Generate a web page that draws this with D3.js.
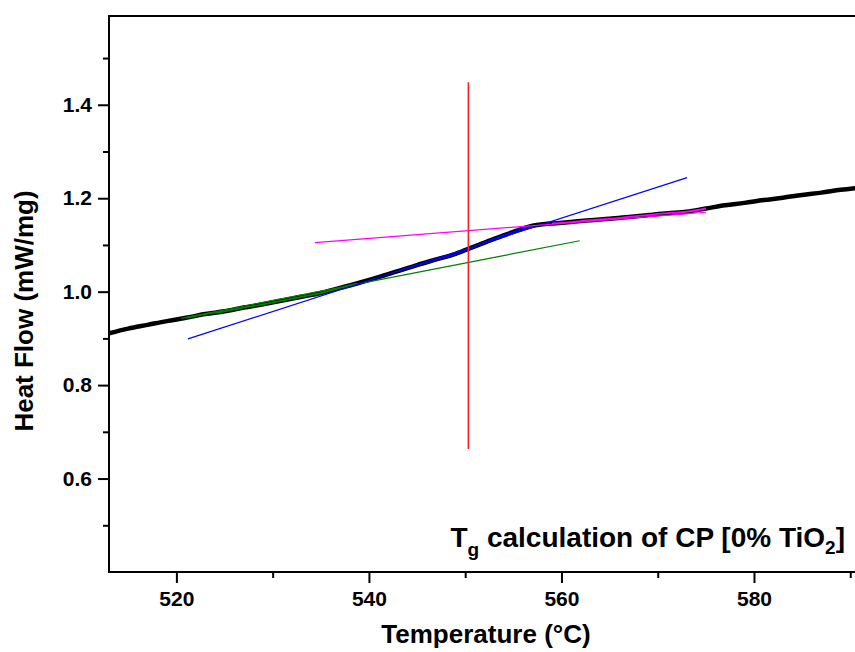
<!DOCTYPE html>
<html>
<head>
    <script src="https://d3js.org/d3.v7.min.js"></script>
    <style>
        body { margin: 0; background: #fff; }
        svg text { font-family: "Liberation Sans", Arial, sans-serif; font-weight: bold; fill: #000; }
    </style>
</head>
<body>
    <div id="chart"></div>
    <script>
        // Heat flow curve (temperature in C, mW/mg)
        const temps = [513, 515, 517, 519, 521, 523, 525, 527, 529, 531, 533, 535, 537, 539,
            541, 543, 545, 547, 549, 551, 553, 555, 557, 559, 561, 563, 565, 567, 569, 571,
            573, 575, 577, 579, 581, 583, 585, 587, 589, 590.7];
        const heatFlow = [0.911, 0.921, 0.929, 0.937, 0.944, 0.952, 0.958, 0.966, 0.973, 0.981,
            0.989, 0.997, 1.008, 1.019, 1.031, 1.044, 1.057, 1.069, 1.081, 1.097, 1.113, 1.128,
            1.141, 1.146, 1.149, 1.153, 1.156, 1.160, 1.164, 1.168, 1.171, 1.178, 1.185, 1.190,
            1.196, 1.201, 1.207, 1.212, 1.218, 1.222];

        // tangent lines: [x1, y1, x2, y2] and the curve range each one was fitted on
        const greenLine = [520.5, 0.943, 561.9, 1.109];
        const blueLine = [521.2, 0.899, 573.05, 1.244];
        const magentaLine = [534.4, 1.105, 575.0, 1.170];
        const tgLine = [550.33, 0.663, 550.33, 1.448];
        const greenFit = [520.5, 540];
        const blueFit = [543, 557];
        const magentaFit = [558, 575];

        const xTicks = [520, 540, 560, 580];
        const xMinor = [530, 550, 570, 590];
        const yTicks = [0.6, 0.8, 1.0, 1.2, 1.4];
        const yMinor = [0.5, 0.7, 0.9, 1.1, 1.3, 1.5];

        const width = 855, height = 652;
        const margin = {top: 16, right: -2, bottom: 80, left: 109};

        const svg = d3.select("#chart").append("svg")
            .attr("width", width)
            .attr("height", height);

        const x = d3.scaleLinear()
            .domain([513, 590.7])
            .range([margin.left, width - margin.right]);

        const y = d3.scaleLinear()
            .domain([0.4, 1.59])
            .range([height - margin.bottom, margin.top]);

        const data = temps.map((t, i) => ({t: t, v: heatFlow[i]}));

        const line = d3.line()
            .x(d => x(d.t))
            .y(d => y(d.v))
            .curve(d3.curveMonotoneX);

        // main curve
        svg.append("path")
            .datum(data)
            .attr("d", line)
            .attr("fill", "none")
            .attr("stroke", "#000")
            .attr("stroke-width", 4.5)
            .attr("stroke-linejoin", "round");

        // fitted parts of the curve in colour
        const fits = [[greenFit, "#008000"], [blueFit, "#0000ff"], [magentaFit, "#ff00ff"]];
        fits.forEach(([r, c]) => {
            svg.append("path")
                .datum(data.filter(d => d.t >= r[0] && d.t <= r[1]))
                .attr("d", line)
                .attr("fill", "none")
                .attr("stroke", c)
                .attr("stroke-width", 1.8);
        });

        // tangents
        const lines = [[greenLine, "#008000", 1.2], [blueLine, "#0000ff", 1.2],
            [magentaLine, "#ff00ff", 1.2], [tgLine, "#ff2020", 1.6]];
        lines.forEach(([l, c, w]) => {
            svg.append("line")
                .attr("x1", x(l[0])).attr("y1", y(l[1]))
                .attr("x2", x(l[2])).attr("y2", y(l[3]))
                .attr("stroke", c)
                .attr("stroke-width", w);
        });

        // frame (right side falls outside the picture)
        svg.append("rect")
            .attr("x", x.range()[0])
            .attr("y", y.range()[1])
            .attr("width", x.range()[1] - x.range()[0])
            .attr("height", y.range()[0] - y.range()[1])
            .attr("fill", "none")
            .attr("stroke", "#000")
            .attr("stroke-width", 2);

        // x axis
        const xAxis = svg.append("g")
            .attr("transform", `translate(0,${y.range()[0]})`);
        xAxis.call(d3.axisBottom(x).tickValues(xTicks).tickSize(11).tickPadding(8).tickFormat(d3.format("d")));
        xAxis.append("g").call(d3.axisBottom(x).tickValues(xMinor).tickSize(6).tickFormat(""));

        // y axis
        const yAxis = svg.append("g")
            .attr("transform", `translate(${x.range()[0]},0)`);
        yAxis.call(d3.axisLeft(y).tickValues(yTicks).tickSize(11).tickPadding(6).tickFormat(d3.format(".1f")));
        yAxis.append("g").call(d3.axisLeft(y).tickValues(yMinor).tickSize(6).tickFormat(""));

        svg.selectAll(".domain").remove();
        svg.selectAll(".tick line").attr("stroke", "#000").attr("stroke-width", 2);
        svg.selectAll(".tick text").style("font-size", "21px");

        // axis titles
        svg.append("text")
            .attr("x", 486)
            .attr("y", 643)
            .attr("text-anchor", "middle")
            .style("font-size", "26px")
            .text("Temperature (°C)");

        svg.append("text")
            .attr("transform", "translate(33,311) rotate(-90)")
            .attr("text-anchor", "middle")
            .style("font-size", "26px")
            .text("Heat Flow (mW/mg)");

        // annotation
        const note = svg.append("text")
            .attr("x", 845)
            .attr("y", 547)
            .attr("text-anchor", "end")
            .style("font-size", "28px");
        note.append("tspan").text("T");
        note.append("tspan").attr("dy", 9).style("font-size", "19px").text("g");
        note.append("tspan").attr("dy", -9).text(" calculation of CP [0% TiO");
        note.append("tspan").attr("dy", 7).style("font-size", "19px").text("2");
        note.append("tspan").attr("dy", -7).text("]");
    </script>
</body>
</html>
